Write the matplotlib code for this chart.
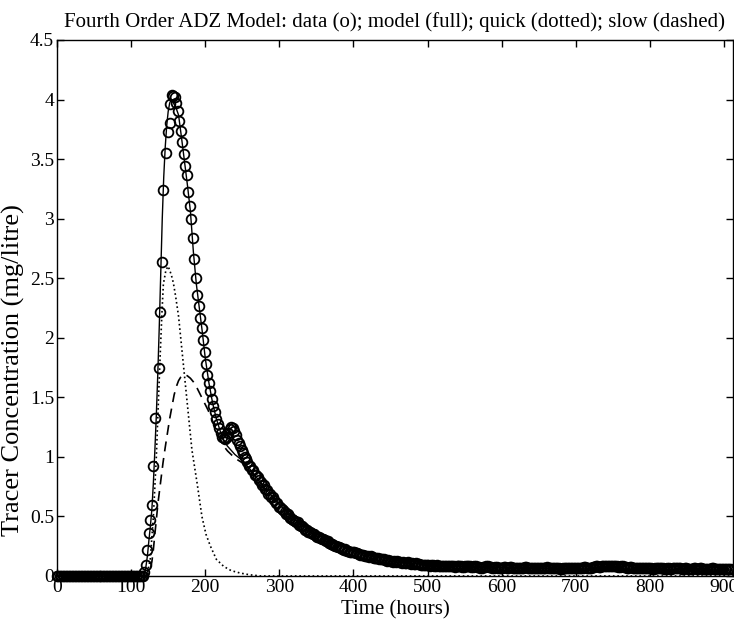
import matplotlib
matplotlib.use("Agg")
import numpy as np
import matplotlib.pyplot as plt

plt.rcParams["font.family"] = ["Liberation Serif", "DejaVu Serif"]

# observed tracer data (hours, mg/litre), sampled about every 2 hours
t_base = np.arange(0, 118, 2)
c_base = np.zeros(len(t_base))

t_rise = [118, 120, 122, 124, 126, 128, 130, 132.5, 137, 139, 141.5, 143.5, 147.5,
          150, 152, 153, 155]
c_rise = [0.03, 0.09, 0.22, 0.36, 0.47, 0.60, 0.92, 1.33, 1.75, 2.22, 2.64, 3.24, 3.55,
          3.73, 3.80, 3.96, 4.04]

t_fall = np.arange(157, 256, 2)
c_fall = [4.03, 4.02, 3.97, 3.90, 3.82, 3.74, 3.64, 3.54, 3.44, 3.37,
          3.22, 3.11, 3.00, 2.84, 2.66, 2.50, 2.36, 2.27, 2.17, 2.08,
          1.98, 1.88, 1.78, 1.69, 1.62, 1.55, 1.49, 1.43, 1.38, 1.32,
          1.28, 1.24, 1.20, 1.17, 1.16, 1.15, 1.17, 1.20, 1.23, 1.25,
          1.24, 1.22, 1.18, 1.14, 1.12, 1.09, 1.06, 1.03, 1.00, 0.98]

t_tail1 = np.arange(257, 498, 2)
c_tail1 = [0.96, 0.92, 0.92, 0.89, 0.89, 0.85, 0.85, 0.83, 0.81, 0.79,
           0.76, 0.76, 0.73, 0.72, 0.69, 0.69, 0.66, 0.66, 0.64, 0.61,
           0.61, 0.58, 0.58, 0.56, 0.55, 0.54, 0.52, 0.52, 0.50, 0.49,
           0.48, 0.47, 0.46, 0.45, 0.45, 0.43, 0.42, 0.42, 0.40, 0.39,
           0.39, 0.37, 0.37, 0.36, 0.35, 0.35, 0.34, 0.33, 0.33, 0.32,
           0.31, 0.31, 0.30, 0.29, 0.29, 0.28, 0.27, 0.27, 0.26, 0.25,
           0.25, 0.245, 0.24, 0.235, 0.23, 0.22, 0.225, 0.21, 0.21, 0.205,
           0.20, 0.20, 0.20, 0.19, 0.19, 0.185, 0.18, 0.175, 0.175, 0.17,
           0.17, 0.165, 0.16, 0.165, 0.16, 0.155, 0.15, 0.155, 0.15, 0.145,
           0.14, 0.145, 0.14, 0.135, 0.13, 0.135, 0.13, 0.125, 0.12, 0.125,
           0.12, 0.125, 0.12, 0.115, 0.11, 0.115, 0.11, 0.11, 0.115, 0.105,
           0.10, 0.105, 0.10, 0.10, 0.105, 0.10, 0.10, 0.095, 0.09, 0.095,
           0.09]

t_tail2 = np.arange(499, 910, 2)
c_tail2 = [0.09,
           0.09, 0.085, 0.09, 0.09, 0.085, 0.08, 0.09, 0.085, 0.08, 0.085,
           0.085, 0.08, 0.08, 0.085, 0.08, 0.08, 0.085, 0.08, 0.075, 0.08,
           0.085, 0.08, 0.08, 0.075, 0.075, 0.08, 0.08, 0.08, 0.08, 0.075,
           0.075, 0.08, 0.08, 0.075, 0.075, 0.07, 0.07, 0.075, 0.075, 0.08,
           0.08, 0.075, 0.075, 0.07, 0.07, 0.075, 0.075, 0.07, 0.07, 0.07,
           0.07, 0.075, 0.075, 0.07, 0.07, 0.075, 0.075, 0.07, 0.07, 0.07,
           0.07, 0.065, 0.065, 0.07, 0.07, 0.075, 0.075, 0.07, 0.07, 0.065,
           0.065, 0.07, 0.07, 0.07, 0.07, 0.065, 0.065, 0.07, 0.07, 0.07,
           0.075, 0.07, 0.07, 0.065, 0.065, 0.07, 0.07, 0.065, 0.065, 0.06,
           0.06, 0.065, 0.065, 0.07, 0.07, 0.065, 0.065, 0.065, 0.065, 0.07,
           0.07, 0.065, 0.065, 0.07, 0.07, 0.075, 0.075, 0.07, 0.07, 0.07,
           0.07, 0.075, 0.075, 0.08, 0.08, 0.075, 0.075, 0.08, 0.08, 0.085,
           0.085, 0.08, 0.08, 0.085, 0.085, 0.08, 0.08, 0.08, 0.075, 0.075,
           0.08, 0.08, 0.075, 0.075, 0.07, 0.07, 0.075, 0.075, 0.07, 0.07,
           0.07, 0.065, 0.065, 0.07, 0.07, 0.065, 0.065, 0.07, 0.07, 0.065,
           0.065, 0.06, 0.06, 0.065, 0.065, 0.07, 0.07, 0.065, 0.065, 0.06,
           0.06, 0.065, 0.065, 0.06, 0.06, 0.065, 0.065, 0.07, 0.07, 0.065,
           0.065, 0.06, 0.06, 0.065, 0.065, 0.06, 0.06, 0.06, 0.06, 0.065,
           0.065, 0.06, 0.06, 0.065, 0.065, 0.06, 0.06, 0.055, 0.055, 0.06,
           0.06, 0.065, 0.065, 0.06, 0.06, 0.055, 0.055, 0.06, 0.06, 0.06,
           0.06, 0.055, 0.055, 0.06, 0.06]

# fourth order ADZ model output
t_model = [0, 116, 118, 120, 122, 124, 126, 128, 130, 132, 134, 136, 138, 140, 142,
           144, 146, 148, 150, 152, 154, 156, 158, 160, 164, 168, 172, 176, 180, 184,
           188, 192, 196, 200, 205, 210, 215, 220, 225, 230, 240, 250, 260, 270, 280,
           290, 300, 310, 320, 340, 360, 380, 400, 425, 450, 475, 500, 550, 600, 700,
           800, 912]
c_model = [0, 0, 0.02, 0.08, 0.17, 0.30, 0.42, 0.56, 0.78, 1.05, 1.35, 1.70, 2.10, 2.55, 3.00,
           3.35, 3.60, 3.78, 3.90, 3.97, 4.00, 3.99, 3.96, 3.94, 3.87, 3.68, 3.48, 3.28, 3.06, 2.72,
           2.45, 2.25, 2.05, 1.83, 1.62, 1.45, 1.32, 1.22, 1.14, 1.09, 1.02, 0.97, 0.90, 0.82, 0.74,
           0.67, 0.60, 0.54, 0.48, 0.39, 0.32, 0.26, 0.21, 0.17, 0.14, 0.11, 0.095, 0.08, 0.07, 0.06,
           0.055, 0.05]

# quick pathway
t_quick = [0, 120, 122, 126, 130, 134, 137, 139.5, 141.5, 143.5, 147, 150, 153, 155, 157,
           160, 164, 168.5, 173, 177.5, 182, 189, 195.5, 201, 207, 215, 225, 235, 247, 260,
           275, 912]
c_quick = [0, 0, 0.02, 0.15, 0.50, 1.00, 1.50, 1.90, 2.20, 2.45, 2.57, 2.60, 2.55, 2.51, 2.46,
           2.35, 2.18, 1.90, 1.62, 1.34, 1.06, 0.78, 0.50, 0.35, 0.25, 0.14, 0.08, 0.045, 0.025, 0.01,
           0.0, 0.0]

# slow pathway
t_slow = [0, 122, 125, 128, 130, 132, 134, 136, 138, 140, 143, 146, 149, 152, 155, 158, 161,
          164, 167, 170, 173, 176, 180, 184, 188, 192, 196, 200, 204, 208, 212, 216, 220,
          225, 230, 240, 250, 260, 270, 280, 290, 300, 310, 320, 340, 360, 380, 400, 425,
          450, 475, 500, 550, 600, 700, 800, 912]
c_slow = [0, 0, 0.03, 0.12, 0.22, 0.35, 0.47, 0.60, 0.70, 0.80, 0.95, 1.08, 1.20, 1.32, 1.42, 1.52, 1.59,
          1.64, 1.67, 1.69, 1.69, 1.68, 1.66, 1.63, 1.59, 1.54, 1.49, 1.44, 1.39, 1.33, 1.27, 1.21, 1.15,
          1.09, 1.05, 0.99, 0.95, 0.89, 0.82, 0.74, 0.67, 0.60, 0.54, 0.48, 0.39, 0.32, 0.26, 0.21, 0.17,
          0.14, 0.11, 0.095, 0.08, 0.07, 0.06, 0.055, 0.05]

t_data = np.concatenate([t_base, t_rise, t_fall, t_tail1, t_tail2])
c_data = np.concatenate([c_base, c_rise, c_fall, c_tail1, c_tail2])

fig = plt.figure(figsize=(7.34, 6.25), dpi=100)
ax = fig.add_axes([57 / 734, 49 / 625, 676 / 734, 536 / 625])

ax.plot(t_data, c_data, "o", mfc="none", mec="black", ms=7, mew=1.3, clip_on=False, zorder=3)
ax.plot(t_model, c_model, "-", color="black", lw=1.0)
ax.plot(t_quick, c_quick, ":", color="black", lw=1.2)
ax.plot(t_slow, c_slow, "--", color="black", lw=1.2, dashes=(6, 4))

ax.set_xlim(0, 912)
ax.set_ylim(0, 4.5)
ax.set_xticks(range(0, 901, 100))
ax.set_yticks(np.arange(0, 4.51, 0.5))
ax.set_yticklabels(["0", "0.5", "1", "1.5", "2", "2.5", "3", "3.5", "4", "4.5"])
ax.tick_params(direction="in", length=5, width=1, top=True, right=True, labelsize=14, pad=2)
for s in ax.spines.values():
    s.set_linewidth(1.0)

ax.set_title("Fourth Order ADZ Model: data (o); model (full); quick (dotted); slow (dashed)",
             fontsize=15, pad=9)
ax.set_xlabel("Time (hours)", fontsize=15, labelpad=3)
ax.set_ylabel("Tracer Concentration (mg/litre)", fontsize=19)
ax.yaxis.set_label_coords(-0.048, 0.385)

fig.savefig("out.png", dpi=100)
